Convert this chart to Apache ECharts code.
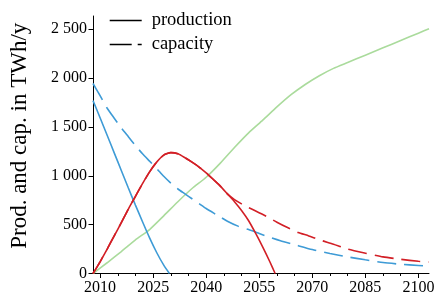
<!DOCTYPE html>
<html>
<head>
<meta charset="utf-8">
<script src="https://cdn.jsdelivr.net/npm/echarts@6/dist/echarts.min.js"></script>
<style>
html,body{margin:0;padding:0;background:#fff;}
#chart{width:440px;height:302px;}
</style>
</head>
<body>
<div id="chart"></div>
<script>
// ---- data ----
const blueProdYears  = [2008, 2010, 2012, 2014, 2016, 2018, 2020, 2022, 2024, 2026, 2028, 2029.6];
const blueProdValues = [1770, 1595, 1415, 1235, 1055, 875, 700, 530, 365, 215, 85, 0];

const blueCapYears  = [2008, 2010, 2012, 2014, 2016, 2018, 2020, 2022, 2024, 2026, 2028, 2030, 2032, 2034, 2036, 2038, 2040, 2043, 2046, 2049, 2052, 2055, 2058, 2061, 2065, 2070, 2075, 2080, 2085, 2090, 2095, 2100, 2103];
const blueCapValues = [1945, 1820, 1692, 1590, 1490, 1400, 1310, 1225, 1150, 1075, 995, 925, 865, 815, 765, 715, 665, 600, 535, 485, 450, 410, 370, 335, 295, 245, 205, 170, 140, 112, 95, 82, 75];

const redProdYears  = [2008, 2010, 2012, 2014, 2016, 2018, 2020, 2022, 2024, 2026, 2028, 2030, 2032, 2034, 2036, 2038, 2040, 2042, 2044, 2046, 2048, 2050, 2052, 2054, 2056, 2058, 2059.5];
const redProdValues = [0, 120, 250, 385, 520, 660, 790, 920, 1040, 1140, 1212, 1237, 1225, 1185, 1140, 1090, 1030, 962, 895, 815, 735, 645, 540, 410, 270, 120, 0];

const redCapYears  = [2008, 2010, 2012, 2014, 2016, 2018, 2020, 2022, 2024, 2026, 2028, 2030, 2032, 2034, 2036, 2038, 2040, 2042, 2044, 2046, 2048, 2050, 2052, 2054, 2057, 2060, 2063, 2066, 2069, 2072, 2076, 2080, 2085, 2090, 2095, 2100, 2103];
const redCapValues = [0, 120, 250, 385, 520, 660, 790, 920, 1040, 1140, 1212, 1237, 1225, 1185, 1140, 1090, 1030, 965, 895, 815, 757, 713, 675, 640, 585, 525, 470, 420, 385, 345, 300, 250, 208, 170, 145, 125, 117];

const greenYears  = [2008, 2012, 2016, 2020, 2024, 2028, 2032, 2036, 2040, 2044, 2048, 2052, 2056, 2060, 2064, 2068, 2072, 2076, 2080, 2085, 2090, 2095, 2100, 2103];
const greenValues = [0, 110, 225, 345, 450, 590, 735, 870, 985, 1130, 1290, 1440, 1570, 1705, 1830, 1935, 2025, 2100, 2160, 2235, 2310, 2385, 2460, 2505];

const xMajorTicks = [2010, 2025, 2040, 2055, 2070, 2085, 2100];
const xMinorTicks = [2010, 2015, 2020, 2025, 2030, 2035, 2040, 2045, 2050, 2055, 2060, 2065, 2070, 2075, 2080, 2085, 2090, 2095, 2100];
const yTicks = [0, 500, 1000, 1500, 2000, 2500];
const yTitle = 'Prod. and cap. in TWh/y';
const legendNames = ['production', 'capacity'];

// ---- build ----
const zip = (xs, ys) => xs.map((x, i) => [x, ys[i]]);
const FONT = 'Liberation Serif';
const BLUE = '#3e9bd6', RED = '#d21f26', GREEN = '#aadb9c';
const DASH = [19, 8];
const fmtY = v => {
  const s = String(v);
  return v >= 1000 ? s.slice(0, s.length - 3) + ' ' + s.slice(-3) : s;
};
const X0 = 2008, X1 = 2103, YMAX = 2636;

const chart = echarts.init(document.getElementById('chart'), null, {renderer: 'canvas'});
const lineBase = {type: 'line', showSymbol: false, symbol: 'none', smooth: 0.2, silent: true, xAxisIndex: 0, yAxisIndex: 0};

chart.setOption({
  animation: false,
  backgroundColor: '#fff',
  grid: {left: 91, right: 11, top: 16, bottom: 28.5, containLabel: false},
  legend: {
    show: true,
    left: 104, top: 6,
    orient: 'vertical',
    itemWidth: 32, itemHeight: 12, itemGap: 5,
    itemStyle: {opacity: 0},
    textStyle: {fontFamily: FONT, fontSize: 18.5, color: '#000', padding: [0, 0, 0, 5]},
    data: [
      {name: legendNames[0], lineStyle: {color: '#000', width: 1.4, type: 'solid'}},
      {name: legendNames[1], lineStyle: {color: '#000', width: 1.4, type: [22, 6]}}
    ]
  },
  xAxis: [{
    type: 'value', min: X0, max: X1,
    axisLine: {show: true, lineStyle: {color: '#000', width: 1}},
    axisTick: {show: true, length: 4.5, lineStyle: {color: '#000'}, customValues: xMajorTicks},
    axisLabel: {show: true, customValues: xMajorTicks, formatter: v => String(v), color: '#000', fontFamily: FONT, fontSize: 16, margin: 6},
    splitLine: {show: false}
  }, {
    type: 'value', min: X0, max: X1, position: 'bottom',
    axisLine: {show: false},
    axisTick: {show: true, length: 2.5, lineStyle: {color: '#000'}, customValues: xMinorTicks},
    axisLabel: {show: false},
    splitLine: {show: false}
  }],
  yAxis: {
    type: 'value', min: 0, max: YMAX,
    name: yTitle, nameLocation: 'middle', nameGap: 62, nameRotate: 90,
    nameTextStyle: {fontFamily: FONT, fontSize: 23, color: '#000', padding: [0, 0, 0, 18]},
    axisLine: {show: true, lineStyle: {color: '#000', width: 1}},
    axisTick: {show: true, length: 4.5, lineStyle: {color: '#000'}, customValues: yTicks},
    axisLabel: {show: true, customValues: yTicks, formatter: fmtY, color: '#000', fontFamily: FONT, fontSize: 16, margin: 6},
    splitLine: {show: false}
  },
  series: [
    Object.assign({}, lineBase, {name: 'green', data: zip(greenYears, greenValues), lineStyle: {color: GREEN, width: 1.6}, z: 2}),
    Object.assign({}, lineBase, {name: 'blueCap', data: zip(blueCapYears, blueCapValues), lineStyle: {color: BLUE, width: 1.6, type: DASH}, z: 3}),
    Object.assign({}, lineBase, {name: 'blueProd', data: zip(blueProdYears, blueProdValues), lineStyle: {color: BLUE, width: 1.6}, z: 3}),
    Object.assign({}, lineBase, {name: 'redCap', data: zip(redCapYears, redCapValues), lineStyle: {color: RED, width: 1.6, type: DASH}, z: 4}),
    Object.assign({}, lineBase, {name: 'redProd', data: zip(redProdYears, redProdValues), lineStyle: {color: RED, width: 1.6}, z: 4}),
    {type: 'line', name: legendNames[0], data: [], symbol: 'none', color: '#000', lineStyle: {color: '#000', width: 1.4}},
    {type: 'line', name: legendNames[1], data: [], symbol: 'none', color: '#000', lineStyle: {color: '#000', width: 1.4, type: [22, 6]}}
  ]
});
</script>
</body>
</html>
